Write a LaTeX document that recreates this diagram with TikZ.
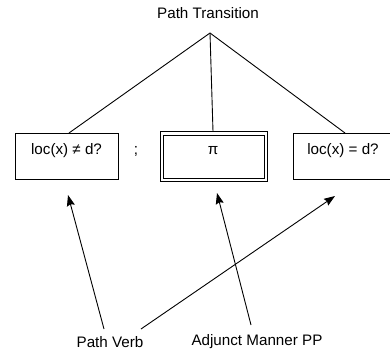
\documentclass[tikz,border=0pt]{standalone}
\usepackage{fontspec}
\setmainfont{Liberation Sans}
\usetikzlibrary{arrows.meta}
\begin{document}
\begin{tikzpicture}[x=1pt,y=-1pt,
  lbl/.style={font=\fontsize{15.2}{17}\selectfont, inner sep=0pt},
  boxlbl/.style={font=\fontsize{15.2}{17}\selectfont, inner sep=0pt},
  ln/.style={line width=0.9pt},
  arr/.style={line width=0.9pt, -{Stealth[length=11pt,width=8pt,inset=1.5pt]}}]
\useasboundingbox (0,0) rectangle (390,352);
\clip (0,0) rectangle (390,352);
\node[lbl] (title) at (208,13) {Path Transition};
\coordinate (apex) at (210,33);
% boxes
\draw[ln] (15,133) rectangle (118,179);
\coordinate (lt) at (69,133);
\node[boxlbl] (l) at (66.5,151) {loc(x) ≠ d?};
\node[boxlbl] (semi) at (136,151) {;};
\draw[ln] (160.5,131.5) rectangle (267.5,181.5);
\draw[ln] (163.5,135) rectangle (264.5,178);
\coordinate (mt) at (213,131.5);
\node[boxlbl] (m) at (213,151) {π};
\draw[ln] (293,133) rectangle (396,179);
\coordinate (rt) at (345,133);
\node[boxlbl] (r) at (343,151) {loc(x) = d?};
% tree lines
\draw[ln] (apex) -- (lt);
\draw[ln] (apex) -- (mt);
\draw[ln] (apex) -- (rt);
% bottom labels
\node[lbl] (pv) at (110,342) {Path Verb};
\node[lbl] (amp) at (257,342) {Adjunct Manner PP};
\coordinate (pv1) at (104,329);
\coordinate (pv2) at (141,329);
\coordinate (am1) at (251,325);
\coordinate (t1) at (68,195);
\coordinate (t2) at (335,196);
\coordinate (t3) at (217,193);
\draw[arr] (pv1) -- (t1);
\draw[arr] (pv2) -- (t2);
\draw[arr] (am1) -- (t3);
\end{tikzpicture}
\end{document}
